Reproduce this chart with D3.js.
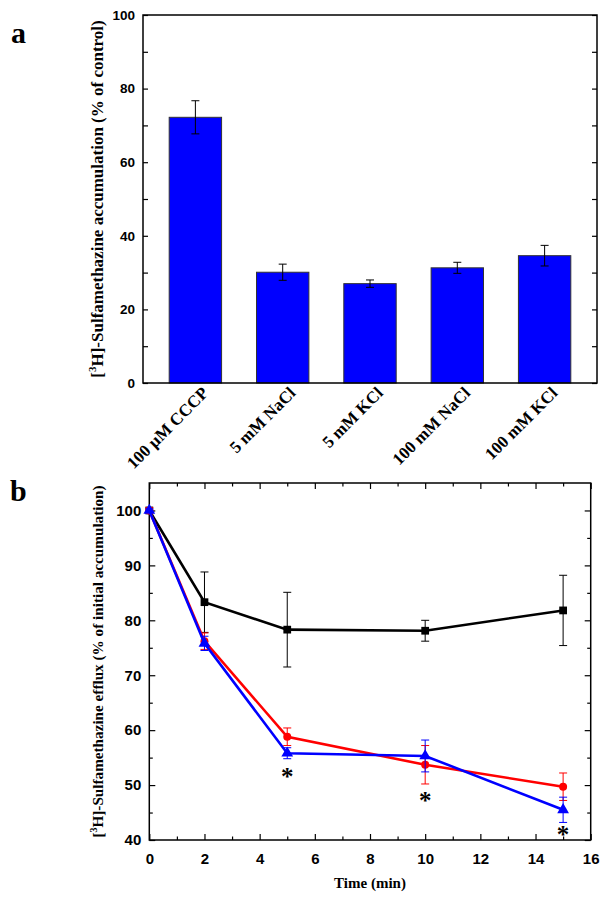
<!DOCTYPE html>
<html><head><meta charset="utf-8">
<script src="https://cdn.jsdelivr.net/npm/d3@7"></script>
<style>body{margin:0;background:#fff}svg{display:block}</style>
</head><body>
<script>
// ---- Panel a data ----
const categories = ["100 µM CCCP","5 mM NaCl","5 mM KCl","100 mM NaCl","100 mM KCl"];
const barValues = [72.2, 30.1, 27.0, 31.3, 34.6];
const barErrors = [4.5, 2.2, 1.0, 1.5, 2.8];
const aTicks = [0, 20, 40, 60, 80, 100];

// ---- Panel b data ----
const times = [0, 2, 5, 10, 15];
const blackVals = [100, 83.3, 78.3, 78.1, 81.8];
const blackErr  = [0, 5.5, 6.8, 1.9, 6.4];
const redVals   = [100, 76.2, 58.8, 53.7, 49.7];
const redErr    = [0.5, 1.5, 1.6, 3.5, 2.5];
const blueVals  = [100, 75.8, 55.8, 55.3, 45.5];
const blueErr   = [0.3, 1.3, 1.0, 2.9, 2.3];
const starTimes = [5, 10, 15];
const starVals  = [52.2, 47.9, 41.6];
const bXTicks = [0, 2, 4, 6, 8, 10, 12, 14, 16];
const bYTicks = [40, 50, 60, 70, 80, 90, 100];

const W = 608, H = 900;
const svg = d3.select("body").append("svg").attr("width", W).attr("height", H);
const serif = "'Liberation Serif','Times New Roman',serif";
const sans = "'Liberation Sans',Arial,sans-serif";

// ================= Panel a =================
const aL = 143, aR = 597, aT = 15, aB = 383;
const xa = d3.scaleBand().domain(categories).range([aL, aR]).paddingInner(0.4).paddingOuter(0.3);
const ya = d3.scaleLinear().domain([0, 100]).range([aB, aT]);
const ga = svg.append("g");

ga.selectAll("rect.bar").data(barValues).join("rect")
  .attr("x", (d,i) => xa(categories[i]))
  .attr("y", d => ya(d))
  .attr("width", xa.bandwidth())
  .attr("height", d => ya(0) - ya(d))
  .attr("fill", "#0000ff").attr("stroke", "#333").attr("stroke-width", 1);

barValues.forEach((v,i) => {
  const cx = xa(categories[i]) + xa.bandwidth()/2;
  const e = barErrors[i];
  const g = ga.append("g").attr("stroke", "#000").attr("stroke-width", 1);
  g.append("line").attr("x1", cx).attr("x2", cx).attr("y1", ya(v+e)).attr("y2", ya(v-e));
  g.append("line").attr("x1", cx-4).attr("x2", cx+4).attr("y1", ya(v+e)).attr("y2", ya(v+e));
  g.append("line").attr("x1", cx-4).attr("x2", cx+4).attr("y1", ya(v-e)).attr("y2", ya(v-e));
});

ga.append("rect").attr("x", aL).attr("y", aT).attr("width", aR-aL).attr("height", aB-aT)
  .attr("fill", "none").attr("stroke", "#000").attr("stroke-width", 1.5);

const aMinor = d3.range(0, 101, 10);
const gya = ga.append("g").attr("transform", `translate(${aL},0)`)
  .call(d3.axisLeft(ya).tickValues(aMinor).tickSize(-5).tickFormat(d => aTicks.includes(d) ? d : ""));
gya.select(".domain").remove();
gya.selectAll("line").attr("stroke-width", 1.2);
gya.selectAll("text").attr("x", -8).attr("font-family", sans).attr("font-weight", "bold").attr("font-size", 13.5).attr("fill", "#000");
const gyaR = ga.append("g").attr("transform", `translate(${aR},0)`)
  .call(d3.axisRight(ya).tickValues(aMinor).tickSize(-5).tickFormat(""));
gyaR.select(".domain").remove();
gyaR.selectAll("line").attr("stroke-width", 1.2);

ga.selectAll("text.xl").data(categories).join("text")
  .attr("transform", d => `translate(${xa(d)+xa.bandwidth()/2+14},${aB+11}) rotate(-45)`)
  .attr("text-anchor", "end")
  .attr("font-family", serif).attr("font-weight", "bold").attr("font-size", 17)
  .text(d => d);

const yla = ga.append("text")
  .attr("transform", `translate(103,${(aT+aB)/2}) rotate(-90)`)
  .attr("text-anchor", "middle")
  .attr("font-family", serif).attr("font-weight", "bold").attr("font-size", 17);
yla.append("tspan").text("[");
yla.append("tspan").attr("font-size", 11).attr("dy", -7).text("3");
yla.append("tspan").attr("dy", 7).text("H]-Sulfamethazine accumulation (% of control)");

svg.append("text").attr("x", 11).attr("y", 43).attr("font-family", serif)
  .attr("font-weight", "bold").attr("font-size", 30).text("a");

// ================= Panel b =================
const bL = 149.3, bR = 590.7, bT = 483, bB = 840;
const xb = d3.scaleLinear().domain([0, 16]).range([bL, bR]);
const yb = d3.scaleLinear().domain([40, 105]).range([bB, bT]);
const gb = svg.append("g");

gb.append("rect").attr("x", bL).attr("y", bT).attr("width", bR-bL).attr("height", bB-bT)
  .attr("fill", "none").attr("stroke", "#000").attr("stroke-width", 1.5);

const xMinor = d3.range(0, 17, 1);
const yMinor = d3.range(40, 105, 5);
const gxb = gb.append("g").attr("transform", `translate(0,${bB})`)
  .call(d3.axisBottom(xb).tickValues(xMinor).tickSize(-5).tickFormat(d => bXTicks.includes(d) ? d : ""));
gxb.select(".domain").remove();
gxb.selectAll(".tick line").attr("stroke-width", 1.2).attr("y2", d => bXTicks.includes(d) ? -6 : -3.5);
gxb.selectAll("text").attr("y", 13).attr("font-family", sans).attr("font-weight", "bold").attr("font-size", 15).attr("fill", "#000");
const gxt = gb.append("g").attr("transform", `translate(0,${bT})`)
  .call(d3.axisTop(xb).tickValues(xMinor).tickSize(-5).tickFormat(""));
gxt.select(".domain").remove();
gxt.selectAll(".tick line").attr("stroke-width", 1.2).attr("y2", d => bXTicks.includes(d) ? 6 : 3.5);
const gyb = gb.append("g").attr("transform", `translate(${bL},0)`)
  .call(d3.axisLeft(yb).tickValues(yMinor).tickSize(-5).tickFormat(d => bYTicks.includes(d) ? d : ""));
gyb.select(".domain").remove();
gyb.selectAll(".tick line").attr("stroke-width", 1.2).attr("x2", d => bYTicks.includes(d) ? 6 : 3.5);
gyb.selectAll("text").attr("x", -8).attr("font-family", sans).attr("font-weight", "bold").attr("font-size", 15).attr("fill", "#000");
const gybR = gb.append("g").attr("transform", `translate(${bR},0)`)
  .call(d3.axisRight(yb).tickValues(yMinor).tickSize(-5).tickFormat(""));
gybR.select(".domain").remove();
gybR.selectAll(".tick line").attr("stroke-width", 1.2).attr("x2", d => bYTicks.includes(d) ? -6 : -3.5);

const line = d3.line().x((d,i) => xb(times[i])).y(d => yb(d));

function series(vals, errs, color, shape) {
  const g = gb.append("g");
  vals.forEach((v,i) => {
    const e = errs[i]; if (!e) return;
    const cx = xb(times[i]);
    const eg = g.append("g").attr("stroke", color).attr("stroke-width", 1);
    eg.append("line").attr("x1", cx).attr("x2", cx).attr("y1", yb(v+e)).attr("y2", yb(v-e));
    eg.append("line").attr("x1", cx-4).attr("x2", cx+4).attr("y1", yb(v+e)).attr("y2", yb(v+e));
    eg.append("line").attr("x1", cx-4).attr("x2", cx+4).attr("y1", yb(v-e)).attr("y2", yb(v-e));
  });
  g.append("path").datum(vals).attr("d", line).attr("fill", "none")
    .attr("stroke", color).attr("stroke-width", 2.6);
  const sym = d3.symbol().type(shape).size(shape === d3.symbolCircle ? 50 : 60);
  g.selectAll("path.m").data(vals).join("path")
    .attr("transform", (d,i) => `translate(${xb(times[i])},${yb(d)})`)
    .attr("d", sym).attr("fill", color);
}
series(blackVals, blackErr, "#000", d3.symbolSquare);
series(redVals, redErr, "#ff0000", d3.symbolCircle);
series(blueVals, blueErr, "#0000ff", d3.symbolTriangle);

gb.selectAll("text.star").data(starVals).join("text")
  .attr("x", (d,i) => xb(starTimes[i])).attr("y", d => yb(d) + 12)
  .attr("text-anchor", "middle").attr("font-family", serif).attr("font-weight", "bold")
  .attr("font-size", 25).text("*");

gb.append("text").attr("x", (bL+bR)/2).attr("y", 888).attr("text-anchor", "middle")
  .attr("font-family", serif).attr("font-weight", "bold").attr("font-size", 15).text("Time (min)");
const ylb = gb.append("text")
  .attr("transform", `translate(103,${(bT+bB)/2}) rotate(-90)`)
  .attr("text-anchor", "middle")
  .attr("font-family", serif).attr("font-weight", "bold").attr("font-size", 15.2);
ylb.append("tspan").text("[");
ylb.append("tspan").attr("font-size", 10).attr("dy", -6).text("3");
ylb.append("tspan").attr("dy", 6).text("H]-Sulfamethazine efflux (% of initial accumulation)");

svg.append("text").attr("x", 10).attr("y", 501).attr("font-family", serif)
  .attr("font-weight", "bold").attr("font-size", 30).text("b");
</script>
</body></html>
